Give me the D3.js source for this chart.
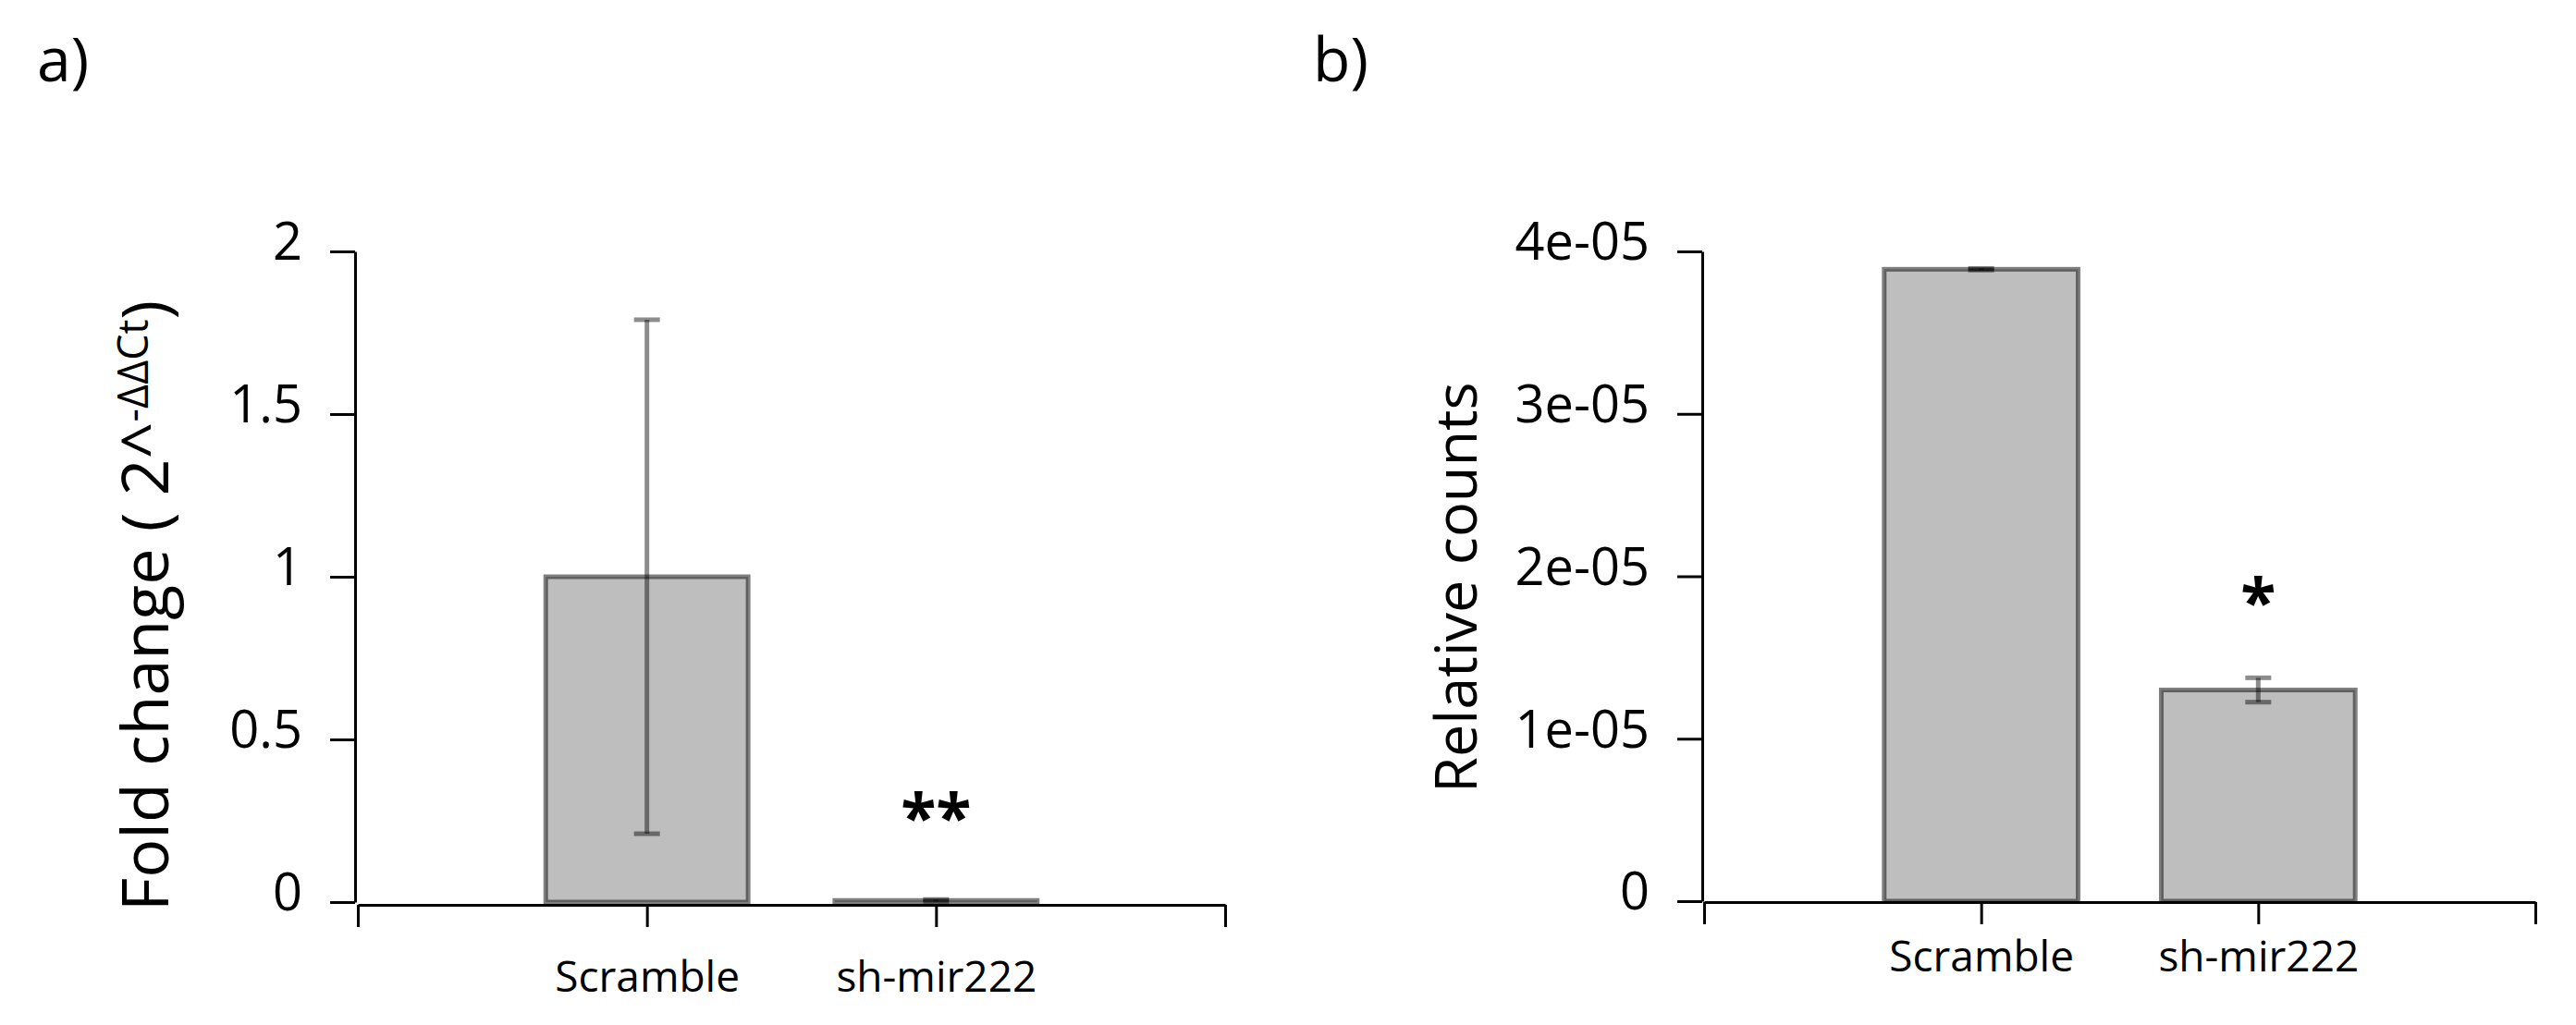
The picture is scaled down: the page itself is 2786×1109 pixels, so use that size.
<!DOCTYPE html>
<html>
<head>
<meta charset="utf-8">
<script src="https://cdn.jsdelivr.net/npm/d3@7"></script>
<style>
  body { margin: 0; background: #fff; }
  svg text { font-family: "Open Sans", sans-serif; fill: #000; }
</style>
</head>
<body>
<div id="chart"></div>
<script>
const categories = ["Scramble", "sh-mir222"];

// panel a: qPCR fold change
const foldChange = [1.0, 0.005];
const foldChangeErr = [0.79, 0.003];
const foldTicks = [0, 0.5, 1, 1.5, 2];

// panel b: relative counts
const relCounts = [3.89e-5, 1.30e-5];
const relCountsErr = [0.005e-5, 0.075e-5];
const countTicks = [0, 1e-5, 2e-5, 3e-5, 4e-5];

const stars = ["**", "*"];

const width = 2786;
const height = 1109;

const svg = d3
  .select("#chart")
  .append("svg")
  .attr("width", width)
  .attr("height", height);

const sciFormat = (d) => {
  if (d === 0) return "0";
  const [m, e] = d.toExponential(0).split("e");
  const n = Math.abs(+e);
  return m + "e" + (+e < 0 ? "-" : "+") + (n < 10 ? "0" + n : n);
};

function drawPanel(p) {
  const g = svg.append("g");

  const y = d3.scaleLinear().domain(p.yDomain).range([p.y0, p.y1]);
  const x = d3.scaleLinear().domain([0, categories.length + 1]).range([p.x0, p.x1]);
  const barW = (x(1) - x(0)) * 0.7;

  // bars
  g.append("g")
    .selectAll("rect")
    .data(p.values)
    .join("rect")
    .attr("x", (d, i) => x(i + 1) - barW / 2)
    .attr("y", (d) => y(d))
    .attr("width", barW)
    .attr("height", (d) => y(0) - y(d))
    .attr("fill", "#bebebe")
    .attr("stroke", "rgba(0,0,0,0.5)")
    .attr("stroke-width", 5);

  // error bars
  const err = g.append("g")
    .attr("stroke", "rgba(0,0,0,0.45)")
    .attr("stroke-width", 5)
    .selectAll("g")
    .data(p.values)
    .join("g");
  err.append("line")
    .attr("x1", (d, i) => x(i + 1))
    .attr("x2", (d, i) => x(i + 1))
    .attr("y1", (d, i) => y(d + p.errors[i]))
    .attr("y2", (d, i) => y(d - p.errors[i]));
  err.selectAll("line.cap")
    .data((d, i) => [[i, d + p.errors[i]], [i, d - p.errors[i]]])
    .join("line")
    .attr("class", "cap")
    .attr("x1", (d) => x(d[0] + 1) - 14)
    .attr("x2", (d) => x(d[0] + 1) + 14)
    .attr("y1", (d) => y(d[1]))
    .attr("y2", (d) => y(d[1]));

  // y axis
  const yAxis = g.append("g")
    .attr("transform", `translate(${p.yAxisX},0)`)
    .call(
      d3.axisLeft(y)
        .tickValues(p.ticks)
        .tickFormat(p.format)
        .tickSize(27)
        .tickSizeOuter(0)
        .tickPadding(30)
    );
  yAxis.selectAll("path, line").attr("stroke-width", 3);
  yAxis.selectAll("text")
    .attr("font-size", 56)
    .attr("dy", "0.16em")
    .attr("font-family", "Open Sans");

  // x axis
  const xAxis = g.append("g")
    .attr("transform", `translate(0,${p.xAxisY})`)
    .call(
      d3.axisBottom(x)
        .tickValues([0, 1, 2, 3])
        .tickFormat((d) => categories[d - 1] || "")
        .tickSize(24)
        .tickSizeOuter(0)
        .tickPadding(p.xPad)
    );
  xAxis.selectAll("path, line").attr("stroke-width", 3);
  xAxis.selectAll("text")
    .attr("font-size", 46)
    .attr("font-family", "Open Sans");

  // significance stars
  g.append("text")
    .attr("x", x(2))
    .attr("y", p.starY)
    .attr("text-anchor", "middle")
    .attr("font-family", "DejaVu Sans")
    .attr("font-weight", "bold")
    .attr("font-size", 70)
    .text(p.star);

  // y label
  const lab = g.append("text")
    .attr("transform", `translate(${p.labX},${p.labY}) rotate(-90)`)
    .attr("font-size", p.labSize);
  lab.append("tspan").text(p.label);
  if (p.sup) {
    lab.append("tspan").attr("dy", -22).attr("font-size", 45).text(p.sup);
    lab.append("tspan").attr("dy", 22).text(")");
  }

  // panel letter
  g.append("text")
    .attr("x", p.tagX)
    .attr("y", 88)
    .attr("font-size", 66)
    .text(p.tag);
}

drawPanel({
  values: foldChange,
  errors: foldChangeErr,
  yDomain: [0, 2],
  ticks: foldTicks,
  format: d3.format("~g"),
  y0: 976, y1: 272,
  x0: 387, x1: 1325,
  yAxisX: 384, xAxisY: 979,
  xPad: 37,
  star: stars[0], starY: 909,
  label: "Fold change ( 2^", sup: "-ΔΔCt",
  labSize: 70, labX: 182, labY: 986,
  tag: "a)", tagX: 40
});

drawPanel({
  values: relCounts,
  errors: relCountsErr,
  yDomain: [0, 4e-5],
  ticks: countTicks,
  format: sciFormat,
  y0: 975, y1: 272,
  x0: 1843, x1: 2742,
  yAxisX: 1841, xAxisY: 976,
  xPad: 18,
  star: stars[1], starY: 676,
  label: "Relative counts",
  labSize: 63, labX: 1597, labY: 858,
  tag: "b)", tagX: 1420
});
</script>
</body>
</html>
